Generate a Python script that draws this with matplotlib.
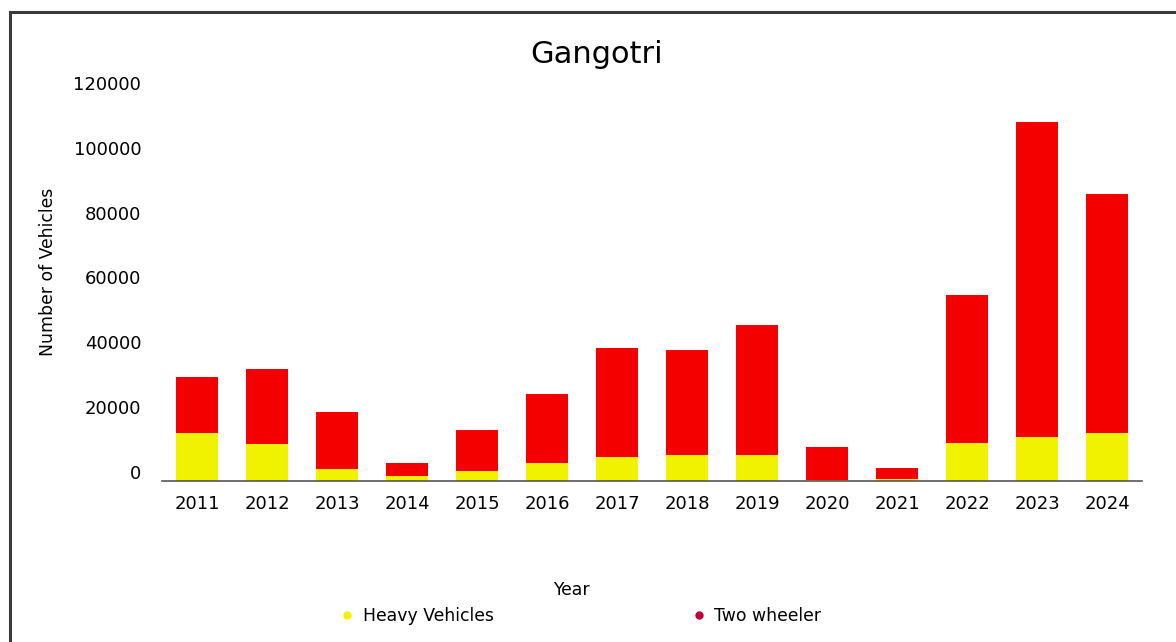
import matplotlib
matplotlib.use("Agg")
import matplotlib.pyplot as plt
from matplotlib.lines import Line2D
from matplotlib.transforms import ScaledTranslation

years = ["2011", "2012", "2013", "2014", "2015", "2016", "2017",
         "2018", "2019", "2020", "2021", "2022", "2023", "2024"]
heavy = [14700, 11400, 3700, 1500, 3200, 5500, 7500,
         8000, 8000, 300, 600, 11800, 13700, 14900]
total = [32000, 34500, 21400, 5600, 15800, 26800, 41000,
         40300, 48000, 10600, 3900, 57500, 110800, 88400]
two_wheeler = [t - h for t, h in zip(total, heavy)]
yticks = [0, 20000, 40000, 60000, 80000, 100000, 120000]

yellow = "#F0F200"
red = "#F40000"

fig = plt.figure(figsize=(11.76, 6.42), dpi=100)
ax = fig.add_axes([0.1378, 0.2508, 0.8333, 0.6059])

x = range(len(years))
ax.bar(x, heavy, width=0.6, color=yellow, label="Heavy Vehicles")
ax.bar(x, two_wheeler, width=0.6, bottom=heavy, color=red, label="Two wheeler")

ax.set_xlim(-0.5, len(years) - 0.5)
ax.set_ylim(0, 120000)
ax.set_yticks(yticks)
ax.set_yticklabels([str(v) for v in yticks])
ax.set_xticks(list(x))
ax.set_xticklabels(years)
ax.tick_params(axis="both", length=0, labelsize=13)
ax.tick_params(axis="x", pad=10)
ax.tick_params(axis="y", pad=15)

# value labels sit a little above their level in the original
shift = ScaledTranslation(0, 0.09, fig.dpi_scale_trans)
for lab in ax.get_yticklabels():
    lab.set_transform(lab.get_transform() + shift)

for s in ["left", "right", "top"]:
    ax.spines[s].set_visible(False)
ax.spines["bottom"].set_color("#555555")
ax.spines["bottom"].set_linewidth(1.2)

fig.text(0.507, 0.902, "Gangotri", fontsize=22, ha="center", va="baseline")
fig.text(0.0408, 0.5763, "Number of Vehicles", fontsize=12.4,
         rotation=90, ha="center", va="center")
fig.text(0.4855, 1 - 590 / 642, "Year", fontsize=12.4, ha="center", va="center")

handles = [
    Line2D([], [], marker="o", linestyle="none", markersize=6,
           markerfacecolor=yellow, markeredgecolor="none"),
    Line2D([], [], marker="o", linestyle="none", markersize=6,
           markerfacecolor="#C0003A", markeredgecolor="none"),
]
fig.legend(handles, ["Heavy Vehicles", "Two wheeler"], ncol=2,
           loc="center", bbox_to_anchor=(0.494, 1 - 616 / 642),
           frameon=False, fontsize=12.4, handlelength=0.8,
           handletextpad=0.5, columnspacing=11.5)

# dark frame on left and top edges
fig.add_artist(Line2D([10 / 1176, 10 / 1176], [0, 1 - 12 / 642],
                      transform=fig.transFigure, color="#3a3a3a", lw=2.2))
fig.add_artist(Line2D([10 / 1176, 1], [1 - 12 / 642, 1 - 12 / 642],
                      transform=fig.transFigure, color="#3a3a3a", lw=2.2))

fig.savefig("out.png", dpi=100)
